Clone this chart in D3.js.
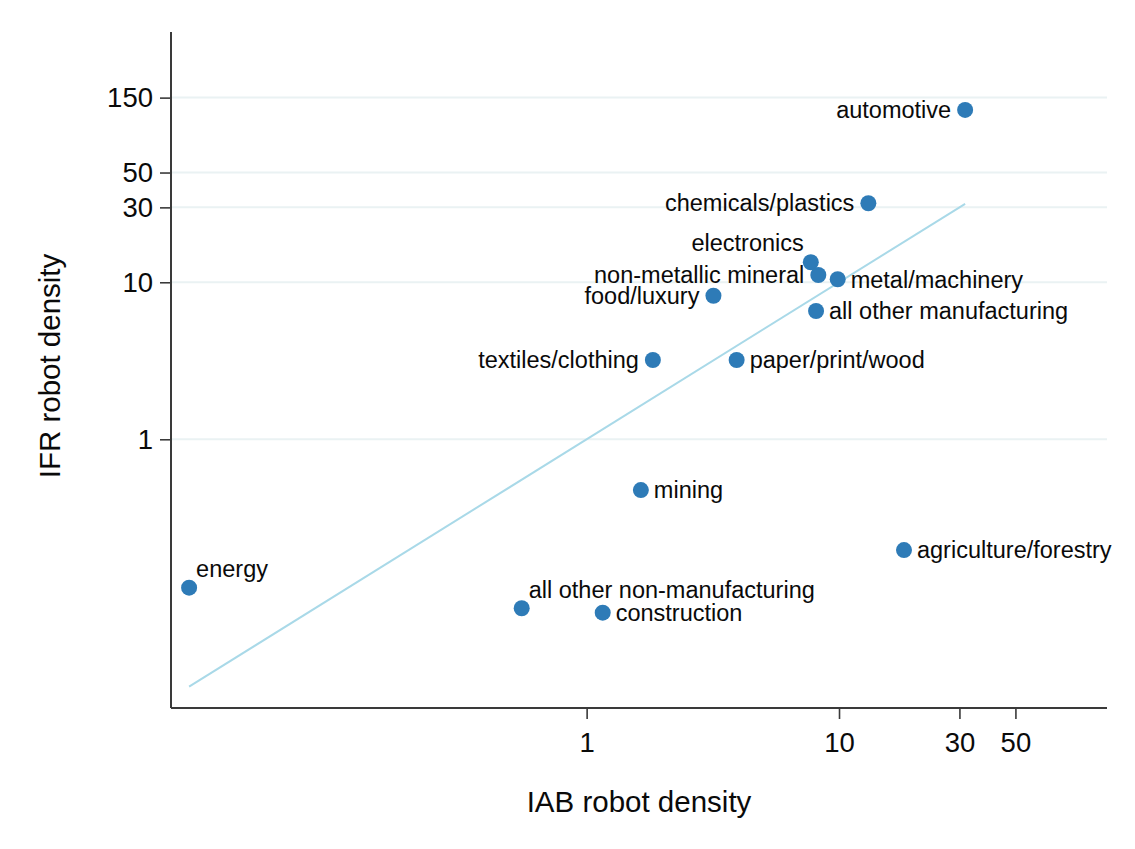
<!DOCTYPE html>
<html>
<head>
<meta charset="utf-8">
<script src="https://cdn.jsdelivr.net/npm/d3@7"></script>
<style>
  html, body { margin: 0; padding: 0; background: #ffffff; }
  svg { display: block; font-family: "Liberation Sans", Arial, sans-serif; }
</style>
</head>
<body>
<svg id="chart" width="1135" height="849"></svg>
<script>
// ---- data ----
const sectors = ["automotive", "chemicals/plastics", "electronics", "non-metallic mineral",
  "metal/machinery", "all other manufacturing", "food/luxury", "textiles/clothing",
  "paper/print/wood", "mining", "agriculture/forestry", "energy",
  "all other non-manufacturing", "construction"];
const iabDensity = [31.6, 13.07, 7.73, 8.28, 9.88, 8.11, 3.18, 1.83, 3.93, 1.64, 18.09, 0.0266, 0.553, 1.158];
const ifrDensity = [125.2, 31.86, 13.41, 11.13, 10.45, 6.56, 8.21, 3.20, 3.20, 0.475, 0.197, 0.1134, 0.0839, 0.0786];
const labelClock = [9, 9, 11, 9, 4, 3, 9, 9, 3, 3, 3, 1, 1, 3];
const xTicks = [1, 10, 30, 50];
const yTicks = [1, 10, 30, 50, 150];
const xTitle = "IAB robot density";
const yTitle = "IFR robot density";

// ---- layout ----
const svg = d3.select("#chart");
const L = 171, R = 1107, T = 32, B = 708;
const x = d3.scaleLog().domain([0.02255, 115.3]).range([L, R]);
const y = d3.scaleLog().domain([0.01943, 392.7]).range([B, T]);

const markerColor = "#2e7bb7";
const lineColor = "#a9d9e8";
const gridColor = "#eaf2f3";
const axisColor = "#3a3a3a";
const textColor = "#0a0a0a";

// gridlines
svg.append("g").selectAll("line").data(yTicks).join("line")
  .attr("x1", L).attr("x2", R)
  .attr("y1", d => y(d)).attr("y2", d => y(d))
  .attr("stroke", gridColor).attr("stroke-width", 2);

// 45-degree line from min to max IAB
const xr = d3.extent(iabDensity);
svg.append("line")
  .attr("x1", x(xr[0])).attr("y1", y(xr[0]))
  .attr("x2", x(xr[1])).attr("y2", y(xr[1]))
  .attr("stroke", lineColor).attr("stroke-width", 2);

// axes
const xAxis = d3.axisBottom(x).tickValues(xTicks).tickFormat(d3.format("d")).tickSize(11).tickSizeOuter(0).tickPadding(13);
const yAxis = d3.axisLeft(y).tickValues(yTicks).tickFormat(d3.format("d")).tickSize(11).tickSizeOuter(0).tickPadding(7);

const gx = svg.append("g").attr("transform", `translate(0,${B})`).call(xAxis);
const gy = svg.append("g").attr("transform", `translate(${L},0)`).call(yAxis);
gx.select(".domain").remove();
gy.select(".domain").remove();
svg.append("line").attr("x1", L).attr("x2", R).attr("y1", B).attr("y2", B)
  .attr("stroke", axisColor).attr("stroke-width", 2);
svg.append("line").attr("x1", L).attr("x2", L).attr("y1", T).attr("y2", B)
  .attr("stroke", axisColor).attr("stroke-width", 2);
[gx, gy].forEach(g => {
  g.selectAll(".tick line").attr("stroke", axisColor).attr("stroke-width", 1.6);
  g.selectAll(".tick text").attr("fill", textColor).attr("font-size", 27.5)
    .attr("font-family", "Liberation Sans, Arial, sans-serif");
});

// axis titles
svg.append("text").attr("x", (L + R) / 2).attr("y", 812)
  .attr("text-anchor", "middle").attr("font-size", 29.5).attr("fill", textColor).text(xTitle);
svg.append("text").attr("transform", `translate(60,${(T + B) / 2 - 4}) rotate(-90)`)
  .attr("text-anchor", "middle").attr("font-size", 29.5).attr("fill", textColor).text(yTitle);

// points
const pts = sectors.map((s, i) => ({ s, xv: iabDensity[i], yv: ifrDensity[i], c: labelClock[i] }));
svg.append("g").selectAll("circle").data(pts).join("circle")
  .attr("cx", d => x(d.xv)).attr("cy", d => y(d.yv)).attr("r", 8)
  .attr("fill", markerColor);

// labels
const off = {
  9:  { dx: -14, dy: 8, anchor: "end" },
  3:  { dx: 13, dy: 8, anchor: "start" },
  4:  { dx: 13, dy: 9, anchor: "start" },
  11: { dx: -7, dy: -11, anchor: "end" },
  1:  { dx: 7, dy: -10.5, anchor: "start" }
};
svg.append("g").selectAll("text").data(pts).join("text")
  .attr("x", d => x(d.xv) + off[d.c].dx)
  .attr("y", d => y(d.yv) + off[d.c].dy)
  .attr("text-anchor", d => off[d.c].anchor)
  .attr("font-size", 23.5).attr("fill", textColor)
  .text(d => d.s);
</script>
</body>
</html>
